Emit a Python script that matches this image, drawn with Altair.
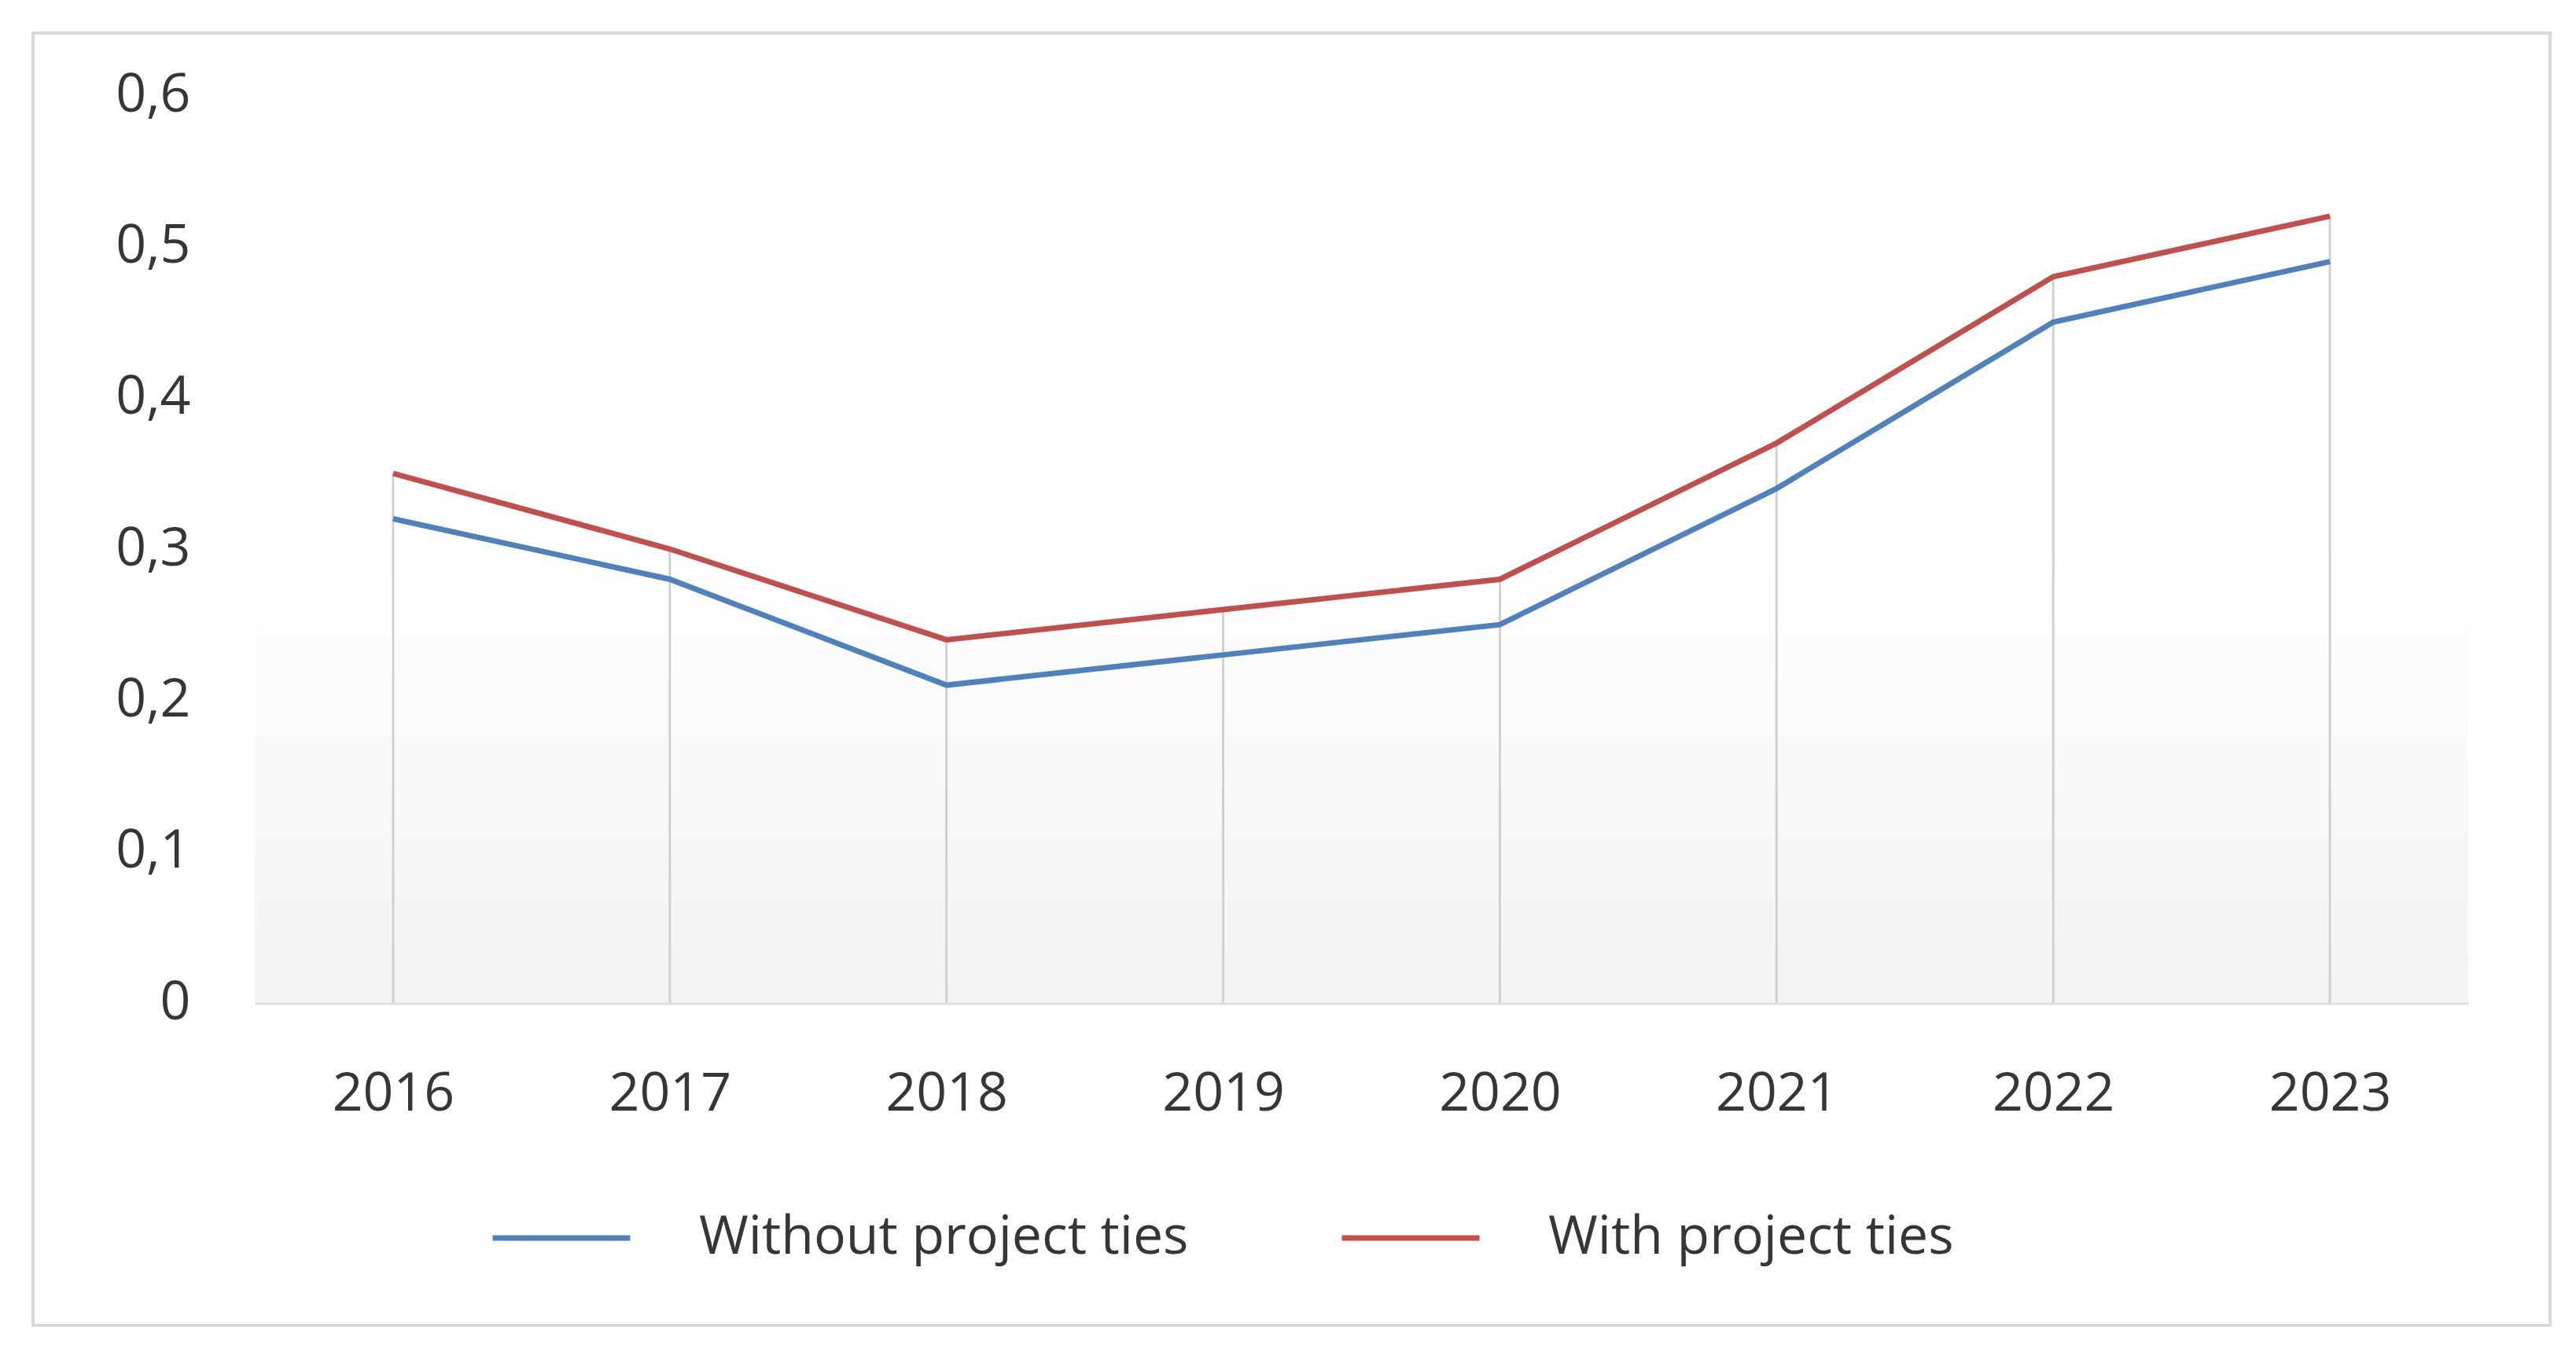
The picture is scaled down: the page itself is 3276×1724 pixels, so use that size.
import altair as alt
import pandas as pd

years = ["2016", "2017", "2018", "2019", "2020", "2021", "2022", "2023"]
without_ties = [0.32, 0.28, 0.21, 0.23, 0.25, 0.34, 0.45, 0.49]
with_ties = [0.35, 0.30, 0.24, 0.26, 0.28, 0.37, 0.48, 0.52]
series_names = ["Without project ties", "With project ties"]
series_colors = ["#4f81bd", "#c0504d"]
y_ticks = [0, 0.1, 0.2, 0.3, 0.4, 0.5, 0.6]

W, H = 2815, 1154
FONT = "Open Sans"
TEXT = "#363636"
FS = 68

long = pd.DataFrame({
    "year": years * 2,
    "value": without_ties + with_ties,
    "series": [series_names[0]] * len(years) + [series_names[1]] * len(years),
})
drops = pd.DataFrame({"year": years, "top": with_ties})
one = pd.DataFrame({"k": [0]})

xscale = alt.Scale(type="point", padding=0.5)
yscale = alt.Scale(domain=[0, 0.6], nice=False)

# faint grey gradient in the lower half of the plot area
backdrop = alt.Chart(one).mark_rect(
    fill=alt.Gradient(gradient="linear", x1=0, y1=0, x2=0, y2=1,
                      stops=[alt.GradientStop(offset=0, color="#ffffff"),
                             alt.GradientStop(offset=1, color="#f3f3f3")])
).encode(x=alt.value(0), x2=alt.value(W), y=alt.value(H * 0.5), y2=alt.value(H))

# outer chart border
frame = alt.Chart(one).mark_rect(fillOpacity=0, stroke="#d9d9d9", strokeWidth=4).encode(
    x=alt.value(-282), x2=alt.value(2919), y=alt.value(-79), y2=alt.value(1564)
)

droplines = alt.Chart(drops).mark_rule(color="#d0d0d0", strokeWidth=3).encode(
    x=alt.X("year:O", scale=xscale),
    y=alt.Y("top:Q", scale=yscale),
    y2=alt.datum(0),
)

lines = alt.Chart(long).mark_line(strokeWidth=7).encode(
    x=alt.X("year:O", scale=xscale,
            axis=alt.Axis(title=None, ticks=False, grid=False, labelAngle=0,
                          labelAlign="center", domainColor="#dcdcdc", domainWidth=4,
                          labelPadding=116, labelFontSize=FS, labelColor=TEXT,
                          labelFont=FONT)),
    y=alt.Y("value:Q", scale=yscale,
            axis=alt.Axis(title=None, values=y_ticks, ticks=False, grid=False,
                          domain=False, labelPadding=82, labelFontSize=FS,
                          labelColor=TEXT, labelFont=FONT,
                          labelExpr="datum.value == 0 ? '0' : replace(format(datum.value, '.1f'), '.', ',')")),
    color=alt.Color("series:N", sort=series_names,
                    scale=alt.Scale(domain=series_names, range=series_colors),
                    legend=alt.Legend(title=None, orient="none", direction="horizontal",
                                      legendX=299, legendY=1362,
                                      symbolType="stroke", symbolSize=30625,
                                      symbolStrokeWidth=7, labelOffset=84,
                                      columnPadding=180, labelFontSize=FS,
                                      labelColor=TEXT, labelFont=FONT,
                                      labelLimit=2000)),
    detail="series:N",
)

chart = alt.layer(backdrop, frame, droplines, lines).properties(
    width=W, height=H,
    autosize=alt.AutoSizeParams(type="none"),
    padding={"left": 316, "top": 113, "right": 129, "bottom": 441},
    background="white",
).configure_view(stroke=None)

chart.save("out.html", embed_options={"renderer": "svg", "actions": False})
